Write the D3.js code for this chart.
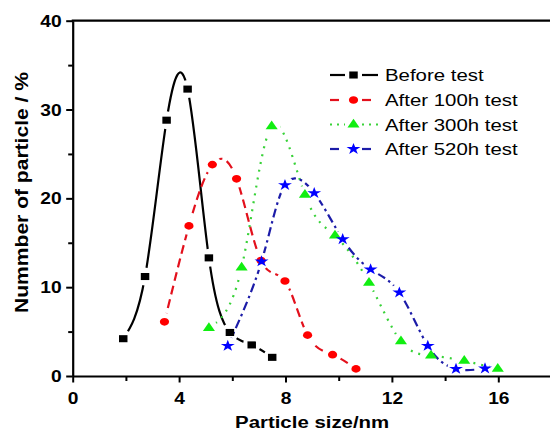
<!DOCTYPE html>
<html>
<head>
<meta charset="utf-8">
<script src="https://cdn.jsdelivr.net/npm/d3@7"></script>
<style>
  html, body { margin: 0; padding: 0; background: #fff; }
  svg { display: block; }
  text { font-family: "Liberation Sans", Arial, sans-serif; }
</style>
</head>
<body>
<svg id="chart" width="550" height="431"></svg>
<script>
// Particle size distributions measured before and after the durability test
const beforeX = [1.9, 2.72, 3.53, 4.32, 5.12, 5.91, 6.73, 7.5];
const beforeY = [4.2, 11.2, 28.8, 32.3, 13.3, 4.9, 3.5, 2.1];
const h100X = [3.45, 4.37, 5.25, 6.16, 7.08, 7.98, 8.83, 9.77, 10.65];
const h100Y = [6.1, 16.9, 23.8, 22.2, 13.0, 10.7, 4.6, 2.4, 0.8];
const h300X = [5.12, 6.35, 7.48, 8.73, 9.86, 11.14, 12.34, 13.47, 14.72, 15.98];
const h300Y = [5.4, 12.2, 28.1, 20.4, 15.8, 10.5, 3.9, 2.3, 1.7, 0.8];
const h520X = [5.83, 7.1, 7.98, 9.08, 10.15, 11.2, 12.28, 13.35, 14.41, 15.5];
const h520Y = [3.4, 12.9, 21.5, 20.6, 15.4, 12.0, 9.4, 3.4, 0.8, 0.85];

const seriesNames = ["Before test", "After 100h test", "After 300h test", "After 520h test"];

const xMajor = [0, 4, 8, 12, 16];
const xMinor = [2, 6, 10, 14];
const yMajor = [0, 10, 20, 30, 40];
const yMinor = [5, 15, 25, 35];

const xTitle = "Particle size/nm";
const yTitle = "Nummber of particle / %";

const svg = d3.select("#chart");
const SX = 1.2; // horizontal glyph stretch of all text and symbols

const x = d3.scaleLinear().domain([0, 18]).range([72.7, 551.5]);
const y = d3.scaleLinear().domain([0, 40]).range([376, 20.7]);

const series = [
  { name: seriesNames[0], xs: beforeX, ys: beforeY, line: "#000", fill: "#000",
    dash: null, symbol: d3.symbolSquare, size: 50 },
  { name: seriesNames[1], xs: h100X, ys: h100Y, line: "#e3101c", fill: "#ff0000",
    dash: "9,5", symbol: d3.symbolCircle, size: 46 },
  { name: seriesNames[2], xs: h300X, ys: h300Y, line: "#38d238", fill: "#11ee11",
    dash: "2,6", symbol: d3.symbolTriangle, size: 44 },
  { name: seriesNames[3], xs: h520X, ys: h520Y, line: "#1c1ca8", fill: "#0000ff",
    dash: "9,4,2.5,4", symbol: d3.symbolStar, size: 42 }
];

// ---- axes ----
const axisG = svg.append("g");

function styleAxis(g) {
  g.selectAll("path.domain").attr("stroke", "#000").attr("stroke-width", 2.2);
  g.selectAll(".tick line").attr("stroke", "#000").attr("stroke-width", 2);
}

// bottom axis: majors with labels, minors without
const xAx = axisG.append("g").attr("transform", `translate(0,${y(0)})`)
  .call(d3.axisBottom(x).tickValues(xMajor).tickSize(6.5).tickSizeOuter(0).tickFormat(d3.format("d")));
styleAxis(xAx);
xAx.selectAll(".tick text")
  .attr("font-size", 16).attr("font-weight", "bold").attr("fill", "#000")
  .attr("y", 0).attr("dy", 0)
  .attr("transform", `translate(0,27.5) scale(${SX},1)`);

const xAxMinor = axisG.append("g").attr("transform", `translate(0,${y(0)})`)
  .call(d3.axisBottom(x).tickValues(xMinor).tickSize(5).tickSizeOuter(0).tickFormat(""));
styleAxis(xAxMinor);
xAxMinor.select("path.domain").remove();

// left axis
const yAx = axisG.append("g").attr("transform", `translate(${x(0)},0)`)
  .call(d3.axisLeft(y).tickValues(yMajor).tickSize(6.5).tickSizeOuter(0).tickFormat(d3.format("d")));
styleAxis(yAx);
yAx.selectAll(".tick text")
  .attr("font-size", 16).attr("font-weight", "bold").attr("fill", "#000")
  .attr("x", 0).attr("dy", 0).attr("y", 0)
  .attr("transform", `translate(-11,5.5) scale(${SX},1)`);

const yAxMinor = axisG.append("g").attr("transform", `translate(${x(0)},0)`)
  .call(d3.axisLeft(y).tickValues(yMinor).tickSize(4.5).tickSizeOuter(0).tickFormat(""));
styleAxis(yAxMinor);
yAxMinor.select("path.domain").remove();

// top frame line
axisG.append("line")
  .attr("x1", x(0) - 1).attr("x2", x(18)).attr("y1", y(40)).attr("y2", y(40))
  .attr("stroke", "#000").attr("stroke-width", 2.2);

// axis titles
svg.append("g").attr("transform", `translate(${(x(0) + x(18)) / 2},427.5)`)
  .append("text").attr("transform", `scale(${SX},1)`)
  .attr("text-anchor", "middle").attr("font-size", 17).attr("font-weight", "bold")
  .text(xTitle);

svg.append("text")
  .attr("transform", `translate(27.5,192.5) rotate(-90)`)
  .attr("text-anchor", "middle").attr("font-size", 19).attr("font-weight", "bold")
  .attr("textLength", 241).attr("lengthAdjust", "spacingAndGlyphs")
  .text(yTitle);

// ---- series ----
const defs = svg.append("defs");
const line = d3.line().x(d => x(d[0])).y(d => y(d[1])).curve(d3.curveNatural);
const gapR = 9;

series.forEach((s, i) => {
  const pts = s.xs.map((v, k) => [v, s.ys[k]]);
  // mask leaves a small gap in the line around every symbol
  const mask = defs.append("mask").attr("id", "gap" + i)
    .attr("maskUnits", "userSpaceOnUse").attr("x", 0).attr("y", 0)
    .attr("width", 550).attr("height", 431);
  mask.append("rect").attr("width", 550).attr("height", 431).attr("fill", "#fff");
  mask.selectAll("circle").data(pts).join("circle")
    .attr("cx", d => x(d[0])).attr("cy", d => y(d[1])).attr("r", gapR).attr("fill", "#000");

  svg.append("path").datum(pts)
    .attr("d", line)
    .attr("fill", "none")
    .attr("stroke", s.line)
    .attr("stroke-width", 2.2)
    .attr("stroke-dasharray", s.dash)
    .attr("mask", `url(#gap${i})`);
});

series.forEach(s => {
  const pts = s.xs.map((v, k) => [v, s.ys[k]]);
  const sym = d3.symbol().type(s.symbol).size(s.size);
  svg.append("g").selectAll("path").data(pts).join("path")
    .attr("transform", d => `translate(${x(d[0])},${y(d[1])}) scale(${SX},1)`)
    .attr("d", sym)
    .attr("fill", s.fill);
});

// ---- legend ----
const legY = [75, 100, 124.5, 149];
const leg = svg.append("g");
series.forEach((s, i) => {
  const g = leg.append("g").attr("transform", `translate(0,${legY[i]})`);
  [[330, 345], [362, 378]].forEach(seg => {
    g.append("line").attr("x1", seg[0]).attr("x2", seg[1]).attr("y1", 0).attr("y2", 0)
      .attr("stroke", s.line).attr("stroke-width", 2.2)
      .attr("stroke-dasharray", s.dash === "2,6" ? "2,5" : (s.dash ? "9,40" : null));
  });
  g.append("path").attr("transform", `translate(353.5,0) scale(${SX},1)`)
    .attr("d", d3.symbol().type(s.symbol).size(s.size)).attr("fill", s.fill);
  g.append("g").attr("transform", "translate(385,6)")
    .append("text").attr("transform", `scale(${SX},1)`)
    .attr("font-size", 17).attr("fill", "#000").text(s.name);
});
</script>
</body>
</html>
